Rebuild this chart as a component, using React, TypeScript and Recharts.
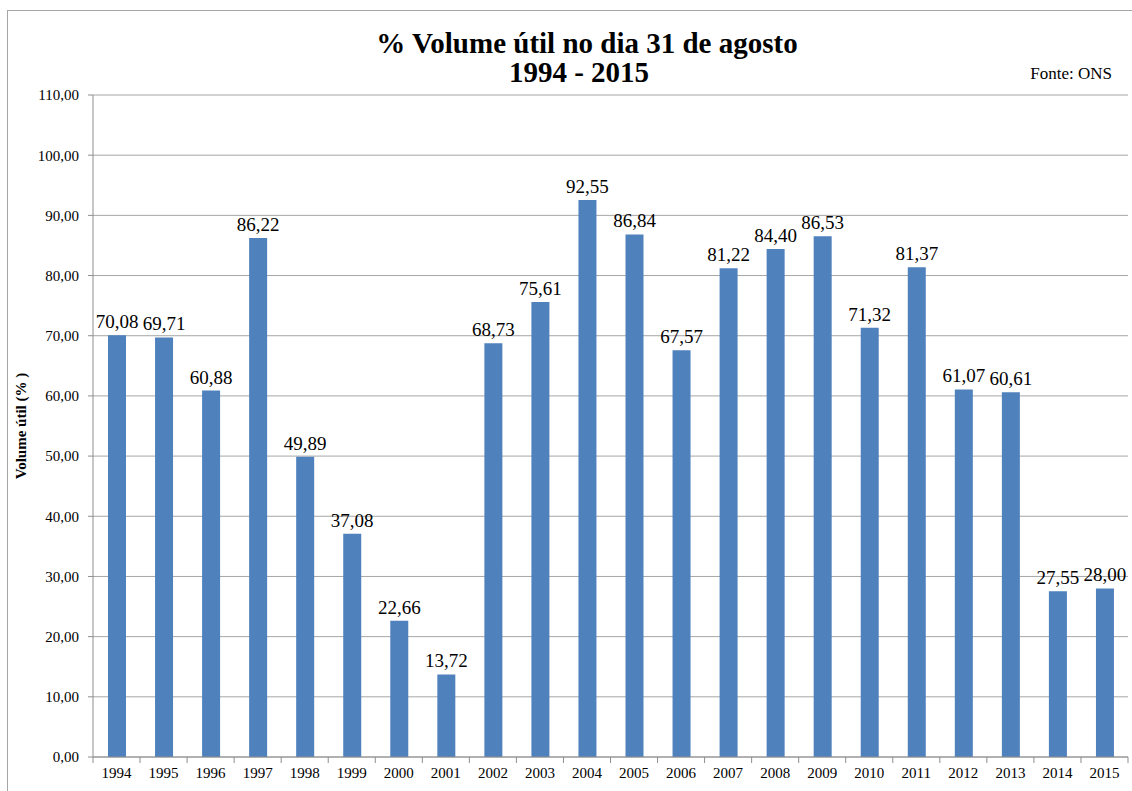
import { BarChart, Bar, XAxis, YAxis, CartesianGrid, LabelList } from 'recharts';

const YEARS = ['1994', '1995', '1996', '1997', '1998', '1999', '2000', '2001', '2002', '2003', '2004',
    '2005', '2006', '2007', '2008', '2009', '2010', '2011', '2012', '2013', '2014', '2015'];
const VOLUME = [70.08, 69.71, 60.88, 86.22, 49.89, 37.08, 22.66, 13.72, 68.73, 75.61, 92.55,
    86.84, 67.57, 81.22, 84.40, 86.53, 71.32, 81.37, 61.07, 60.61, 27.55, 28.00];
const Y_TICKS = [0, 10, 20, 30, 40, 50, 60, 70, 80, 90, 100, 110];

const W = 1132;
const H = 791;
const MARGIN = { top: 95, right: 4, bottom: 0, left: 0 };
const Y_AXIS_W = 93;
const BAND = (W - MARGIN.left - MARGIN.right - Y_AXIS_W) / YEARS.length;
const FONT = '"Liberation Serif", "Times New Roman", serif';
const AXIS_COLOR = '#8e8e8e';

const data = YEARS.map((year, i) => ({ year, value: VOLUME[i] }));

const fmt = (v: number) => v.toFixed(2).replace('.', ',');

// category labels with tick marks between categories (Excel style)
function YearTick(props: any) {
    const { x, y, payload, index } = props;
    return (
        <g>
            {index === 0 && <line x1={x - BAND / 2} x2={x - BAND / 2} y1={y} y2={y + 6} stroke={AXIS_COLOR} />}
            <line x1={x + BAND / 2} x2={x + BAND / 2} y1={y} y2={y + 6} stroke={AXIS_COLOR} />
            <text x={x} y={y + 21} textAnchor="middle" fontSize={15} fill="#000" fontFamily={FONT}>
                {payload.value}
            </text>
        </g>
    );
}

// value label above each bar
function ValueLabel(props: any) {
    const { x, y, width, value } = props;
    return (
        <text x={x + width / 2} y={y - 7} textAnchor="middle" fontSize={19} fill="#000" fontFamily={FONT}>
            {fmt(Number(value))}
        </text>
    );
}

export default function App() {
    return (
        <div style={{ position: 'absolute', left: 0, top: 0, width: W, height: H, background: '#fff', fontFamily: FONT }}>
            <div style={{ position: 'absolute', left: 7, top: 10, width: W - 7, height: H - 10, borderLeft: '1px solid #a6a6a6', borderTop: '1px solid #a6a6a6' }} />
            <BarChart width={W} height={H} data={data} margin={MARGIN}>
                <CartesianGrid vertical={false} stroke="#a6a6a6" />
                <XAxis
                    dataKey="year"
                    height={34}
                    interval={0}
                    tickLine={false}
                    tickSize={0}
                    tickMargin={0}
                    tick={<YearTick />}
                    stroke={AXIS_COLOR}
                />
                <YAxis
                    width={Y_AXIS_W}
                    domain={[0, 110]}
                    ticks={Y_TICKS}
                    interval={0}
                    tickFormatter={fmt}
                    tickSize={5}
                    tickMargin={9}
                    stroke={AXIS_COLOR}
                    tick={{ fill: '#000', fontSize: 15, fontFamily: FONT }}
                    label={{
                        value: 'Volume útil (% )',
                        angle: -90,
                        position: 'insideLeft',
                        offset: 21,
                        style: { fill: '#000', fontSize: 15, fontWeight: 'bold', fontFamily: FONT, textAnchor: 'middle' },
                    }}
                />
                <Bar dataKey="value" fill="#4f81bd" barSize={18} isAnimationActive={false}>
                    <LabelList dataKey="value" content={<ValueLabel />} />
                </Bar>
            </BarChart>
            <svg width={W} height={100} style={{ position: 'absolute', left: 0, top: 0, pointerEvents: 'none' }}>
                <text x={587} y={53} textAnchor="middle" fontSize={29} fontWeight="bold" fontFamily={FONT} fill="#000">
                    % Volume útil no dia 31 de agosto
                </text>
                <text x={579} y={82} textAnchor="middle" fontSize={29} fontWeight="bold" fontFamily={FONT} fill="#000">
                    1994 - 2015
                </text>
                <text x={1112} y={79} textAnchor="end" fontSize={17} fontFamily={FONT} fill="#000">
                    Fonte: ONS
                </text>
            </svg>
        </div>
    );
}
